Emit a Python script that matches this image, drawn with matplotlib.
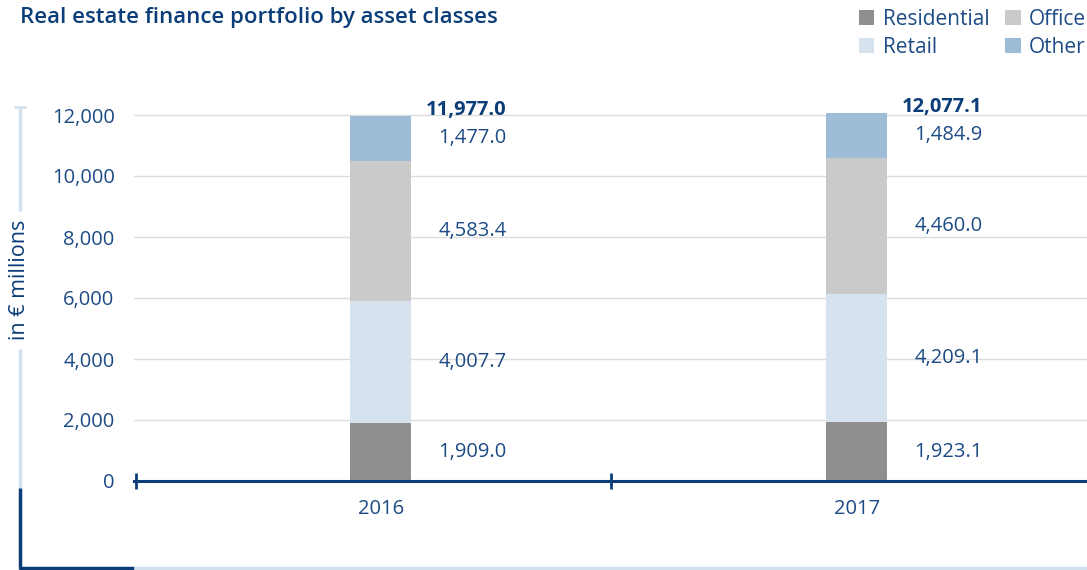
import matplotlib
matplotlib.use("Agg")
import matplotlib.pyplot as plt
from matplotlib.lines import Line2D
from matplotlib.patches import Patch
import numpy as np

plt.rcParams['font.family'] = ['Open Sans', 'DejaVu Sans']

years = ["2016", "2017"]
series = ["Residential", "Retail", "Office", "Other"]
residential = [1909.0, 1923.1]
retail = [4007.7, 4209.1]
office = [4583.4, 4460.0]
other = [1477.0, 1484.9]
totals = [11977.0, 12077.1]
yticks = [0, 2000, 4000, 6000, 8000, 10000, 12000]

colors = {"Residential": "#8f8f8f", "Retail": "#d6e2ee",
          "Office": "#c9cac9", "Other": "#9dbcd8"}
dark = "#0b3d78"
txt = "#1d4b85"
fs = 14.5

W, H = 1087, 570
fig = plt.figure(figsize=(W / 100, H / 100), dpi=100)
ax = fig.add_axes([134 / W, 1 - 481 / H, 953 / W, 384.3 / H])

x = np.arange(len(years))
bw = 0.128
bottom = np.zeros(len(years))
vals = {"Residential": residential, "Retail": retail, "Office": office, "Other": other}
for s in series:
    v = np.array(vals[s])
    ax.bar(x, v, bw, bottom=bottom, color=colors[s], zorder=3, clip_on=False)
    for xi, vi, bi in zip(x, v, bottom):
        ax.text(xi + 0.2647, bi + vi / 2, f"{vi:,.1f}", ha="right", va="center",
                fontsize=fs, color=txt)
    bottom += v
for xi, t in zip(x, totals):
    ax.text(xi + 0.2647, t + 20, f"{t:,.1f}", ha="right", va="baseline",
            fontsize=fs, color=dark, fontweight="bold")

ax.set_xlim(-0.518, 1.484)
ax.set_ylim(0, 12600)
ax.set_yticks(yticks)
ax.set_yticklabels([f"{v:,}" for v in yticks])
ax.set_xticks(x)
ax.set_xticklabels(years)
ax.set_xticks([-0.514, 0.484], minor=True)
ax.tick_params(axis="y", length=0, pad=14, labelsize=fs, labelcolor=txt)
ax.tick_params(axis="x", which="major", length=0, pad=13, labelsize=fs, labelcolor=txt)
ax.tick_params(axis="x", which="minor", direction="inout", length=11, width=2, color=dark)
ax.grid(axis="y", color="#dcdcdc", lw=1, zorder=0)
for sp in ["left", "right", "top"]:
    ax.spines[sp].set_visible(False)
ax.spines["bottom"].set_color(dark)
ax.spines["bottom"].set_linewidth(2.2)
ax.spines["bottom"].set_zorder(4)

# Title
fig.text(20 / W, 1 - 18 / H, "Real estate finance portfolio by asset classes",
         fontsize=16, color=dark, va="center", ha="left", fontweight="semibold")

# Y label with bracket lines
fig.text(20 / W, 1 - 280 / H, "in € millions", rotation=90, fontsize=15.5,
         color=dark, va="center", ha="center")
light = "#d3e0ee"
def fl(x0, y0, x1, y1, c, lw):
    fig.add_artist(Line2D([x0 / W, x1 / W], [1 - y0 / H, 1 - y1 / H],
                          transform=fig.transFigure, color=c, lw=lw,
                          solid_capstyle="butt"))
fl(20, 107, 20, 211, light, 2.5)
fl(14, 107, 26, 107, light, 2)
fl(20, 349, 20, 488, light, 2.5)
fl(20, 488, 20, 569, dark, 2.5)
fl(19, 568, 134, 568, dark, 2.5)
fl(134, 568, 1087, 568, light, 2.5)

# Legend
handles = [Patch(facecolor=colors[s], edgecolor="none") for s in series]
leg = fig.legend(handles, series, ncol=2, loc="upper right",
                 bbox_to_anchor=(1.003, 0.992), frameon=False, fontsize=15,
                 handlelength=0.75, handleheight=0.75, handletextpad=0.4,
                 columnspacing=0.75, labelspacing=0.35, borderaxespad=0.1,
                 borderpad=0.1)
for t in leg.get_texts():
    t.set_color(txt)

fig.savefig("out.png", dpi=100)
